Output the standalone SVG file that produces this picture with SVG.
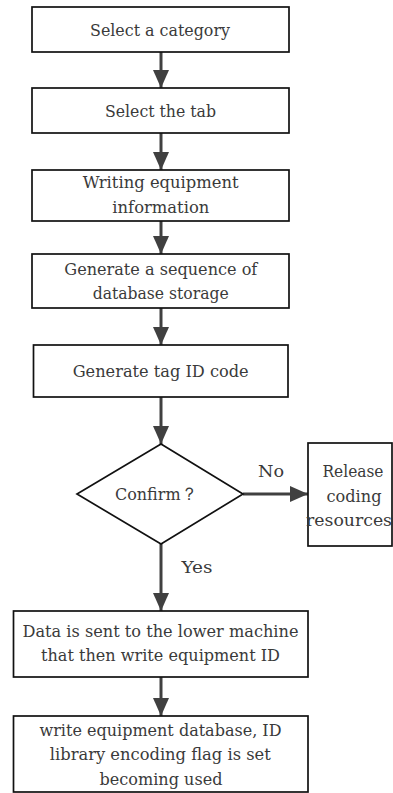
<svg xmlns="http://www.w3.org/2000/svg" width="393" height="793" viewBox="0 0 393 793">
  <style>
    .box { fill: #ffffff; stroke: #111111; stroke-width: 1.7; }
    .lbl { font-family: "DejaVu Serif", serif; font-size: 17.5px; fill: #3a3a3a; text-anchor: middle; }
    .edge { stroke: #404040; stroke-width: 3; fill: none; }
  </style>
  <defs>
    <marker id="arrow" viewBox="0 0 18 16" refX="18" refY="8" markerWidth="18" markerHeight="16" markerUnits="userSpaceOnUse" orient="auto">
      <path d="M0,0 L18,8 L0,16 Z" fill="#404040"/>
    </marker>
  </defs>
  <rect width="393" height="793" fill="#ffffff"/>

  <g id="connectors">
    <line class="edge" x1="161" y1="52" x2="161" y2="88" marker-end="url(#arrow)"/>
    <line class="edge" x1="161" y1="133" x2="161" y2="170" marker-end="url(#arrow)"/>
    <line class="edge" x1="161" y1="221" x2="161" y2="254" marker-end="url(#arrow)"/>
    <line class="edge" x1="161" y1="308" x2="161" y2="345" marker-end="url(#arrow)"/>
    <line class="edge" x1="161" y1="397" x2="161" y2="444" marker-end="url(#arrow)"/>
    <line class="edge" x1="243" y1="494" x2="308" y2="494" marker-end="url(#arrow)"/>
    <line class="edge" x1="161" y1="544" x2="161" y2="611" marker-end="url(#arrow)"/>
    <line class="edge" x1="161" y1="677" x2="161" y2="716" marker-end="url(#arrow)"/>
    <text class="lbl" x="271" y="477" textLength="26" lengthAdjust="spacingAndGlyphs">No</text>
    <text class="lbl" x="197" y="573" textLength="31" lengthAdjust="spacingAndGlyphs">Yes</text>
  </g>

  <g id="select-category">
    <rect class="box" x="32" y="7" width="257" height="45"/>
    <text class="lbl" x="160" y="35.7" textLength="140" lengthAdjust="spacingAndGlyphs">Select a category</text>
  </g>

  <g id="select-tab">
    <rect class="box" x="32" y="88" width="257" height="45"/>
    <text class="lbl" x="160.5" y="117" textLength="111" lengthAdjust="spacingAndGlyphs">Select the tab</text>
  </g>

  <g id="write-info">
    <rect class="box" x="32" y="170" width="257" height="51"/>
    <text class="lbl" x="160.7" y="188" textLength="156" lengthAdjust="spacingAndGlyphs">Writing equipment</text>
    <text class="lbl" x="160.8" y="213" textLength="97" lengthAdjust="spacingAndGlyphs">information</text>
  </g>

  <g id="gen-sequence">
    <rect class="box" x="32" y="254" width="257" height="54"/>
    <text class="lbl" x="160.8" y="275" textLength="193" lengthAdjust="spacingAndGlyphs">Generate a sequence of</text>
    <text class="lbl" x="160.7" y="299" textLength="136" lengthAdjust="spacingAndGlyphs">database storage</text>
  </g>

  <g id="gen-tag">
    <rect class="box" x="33.5" y="345" width="254.5" height="52"/>
    <text class="lbl" x="160.7" y="377" textLength="176" lengthAdjust="spacingAndGlyphs">Generate tag ID code</text>
  </g>

  <g id="confirm">
    <polygon class="box" points="161,444 243,494 161,544 77,494"/>
    <text class="lbl" x="156" y="500" textLength="82" lengthAdjust="spacingAndGlyphs">Confirm？</text>
  </g>

  <g id="release">
    <rect class="box" x="308" y="443" width="84" height="103"/>
    <text class="lbl" x="353" y="477" textLength="61" lengthAdjust="spacingAndGlyphs">Release</text>
    <text class="lbl" x="354" y="502" textLength="55" lengthAdjust="spacingAndGlyphs">coding</text>
    <text class="lbl" x="349" y="526" textLength="86" lengthAdjust="spacingAndGlyphs">resources</text>
  </g>

  <g id="send-data">
    <rect class="box" x="13.5" y="611" width="294.5" height="66"/>
    <text class="lbl" x="160.5" y="637" textLength="276" lengthAdjust="spacingAndGlyphs">Data is sent to the lower machine</text>
    <text class="lbl" x="160.5" y="661" textLength="239" lengthAdjust="spacingAndGlyphs">that then write equipment ID</text>
  </g>

  <g id="write-db">
    <rect class="box" x="13.5" y="716" width="294.5" height="76"/>
    <text class="lbl" x="160.5" y="736" textLength="242" lengthAdjust="spacingAndGlyphs">write equipment database, ID</text>
    <text class="lbl" x="160.3" y="760" textLength="221" lengthAdjust="spacingAndGlyphs">library encoding flag is set</text>
    <text class="lbl" x="161" y="785" textLength="123" lengthAdjust="spacingAndGlyphs">becoming used</text>
  </g>
</svg>
